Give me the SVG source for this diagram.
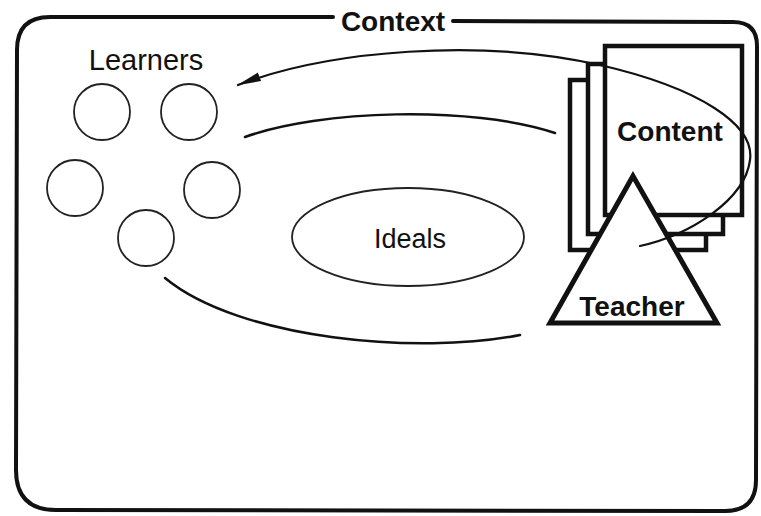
<svg xmlns="http://www.w3.org/2000/svg" width="761" height="516" viewBox="0 0 761 516">
  <style>
    .frame { fill: none; stroke: #111; stroke-width: 4; stroke-linecap: round; stroke-linejoin: round; }
    .learner { fill: none; stroke: #222; stroke-width: 1.8; }
    .ideal { fill: none; stroke: #222; stroke-width: 1.8; }
    .page { fill: #fff; stroke: #111; stroke-width: 4.5; }
    .teacher { fill: #fff; stroke: #111; stroke-width: 5; stroke-linejoin: miter; }
    .flow { fill: none; stroke: #111; stroke-width: 2.5; stroke-linecap: round; }
    .loop { fill: none; stroke: #111; stroke-width: 2.2; stroke-linecap: round; }
    .label { font-family: "Liberation Sans", Arial, sans-serif; fill: #111; text-anchor: middle; }
    .bold { font-weight: bold; }
  </style>
  <defs>
    <marker id="head" markerUnits="userSpaceOnUse" viewBox="0 0 24 10" markerWidth="24" markerHeight="10" refX="23" refY="5" orient="auto-start-reverse">
      <path d="M0,0.5 L24,5 L0,9.5 z" fill="#111"/>
    </marker>
  </defs>
  <rect width="761" height="516" fill="#fff"/>

  <!-- Context frame, open at the top for its label -->
  <g id="context">
    <path class="frame" d="M333,17 L50,17 Q17,17 17,50 L16,470 Q16,510 56,510 L725,511 Q756,511 756,480 L757,46 Q757,22 733,22 L453,21"/>
    <text class="label bold" x="393" y="31" font-size="28">Context</text>
  </g>

  <!-- Learners -->
  <g id="learners">
    <text class="label" x="146" y="70" font-size="29">Learners</text>
    <circle class="learner" cx="102" cy="112" r="28"/>
    <circle class="learner" cx="189" cy="112" r="28"/>
    <circle class="learner" cx="75" cy="188" r="28"/>
    <circle class="learner" cx="212" cy="190" r="28"/>
    <circle class="learner" cx="146" cy="238" r="28"/>
  </g>

  <!-- Ideals -->
  <g id="ideals">
    <ellipse class="ideal" cx="408" cy="237" rx="116" ry="49"/>
    <text class="label" x="410" y="248" font-size="27">Ideals</text>
  </g>

  <!-- Content: stacked pages -->
  <g id="content">
    <rect class="page" x="570" y="80" width="136" height="170"/>
    <rect class="page" x="588" y="64" width="135" height="170"/>
    <rect class="page" x="605" y="46" width="137" height="169"/>
    <text class="label bold" x="670" y="141" font-size="28">Content</text>
  </g>

  <!-- Teacher -->
  <g id="teacher">
    <polygon class="teacher" points="633,176 550,323 717,323"/>
    <text class="label bold" x="632" y="316" font-size="28">Teacher</text>
  </g>

  <!-- Connectors -->
  <g id="connectors">
    <path class="loop" marker-start="url(#head)" d="M238,85 C330,50 480,38 600,65 C700,88 755,125 750,160 C745,200 690,235 640,246"/>
    <path class="flow" d="M245,137 C320,110 470,105 555,133"/>
    <path class="flow" d="M165,278 C240,340 420,355 520,335"/>
  </g>
</svg>
